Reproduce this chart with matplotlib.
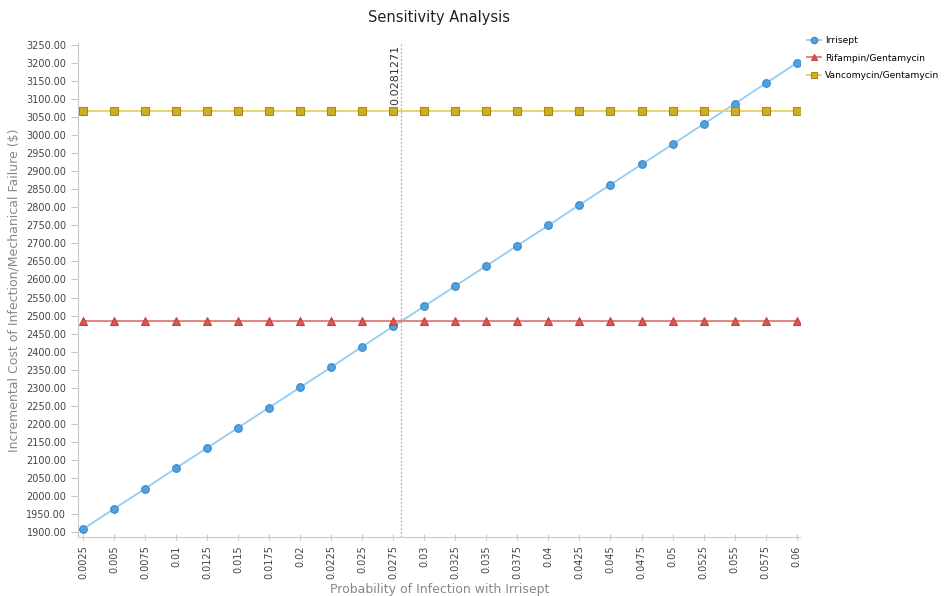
import numpy as np
import matplotlib.pyplot as plt
from matplotlib.ticker import FixedLocator, FormatStrFormatter

# Probability values (x axis)
prob = [0.0025, 0.005, 0.0075, 0.01, 0.0125, 0.015, 0.0175, 0.02, 0.0225, 0.025,
        0.0275, 0.03, 0.0325, 0.035, 0.0375, 0.04, 0.0425, 0.045, 0.0475, 0.05,
        0.0525, 0.055, 0.0575, 0.06]
prob_labels = ['0.0025', '0.005', '0.0075', '0.01', '0.0125', '0.015', '0.0175', '0.02',
               '0.0225', '0.025', '0.0275', '0.03', '0.0325', '0.035', '0.0375', '0.04',
               '0.0425', '0.045', '0.0475', '0.05', '0.0525', '0.055', '0.0575', '0.06']

# Costs
irrisept = [1908, 1964, 2020, 2077, 2133, 2189, 2245, 2301, 2357, 2414, 2470, 2526,
            2582, 2638, 2694, 2750, 2807, 2863, 2919, 2975, 3031, 3087, 3144, 3200]
rifampin = [2485] * 24
vancomycin = [3068] * 24

threshold = 0.0281271
y_ticks = list(range(1900, 3251, 50))

fig = plt.figure(figsize=(9.48, 5.96), dpi=100)
ax = fig.add_axes([0.0823, 0.099, 0.762, 0.829])

ax.plot(prob, irrisept, '-', color='#92cdf2', lw=1.3, marker='o', ms=5.5,
        mfc='#4fa3e3', mec='#3a86c8', mew=0.8, label='Irrisept', zorder=3)
ax.plot(prob, rifampin, '-', color='#e37b76', lw=1.3, marker='^', ms=5.5,
        mfc='#d9574f', mec='#c2443c', mew=0.8, label='Rifampin/Gentamycin', zorder=3)
ax.plot(prob, vancomycin, '-', color='#ead064', lw=1.3, marker='s', ms=5.5,
        mfc='#cfae22', mec='#a88a14', mew=0.8, label='Vancomycin/Gentamycin', zorder=3)

# threshold line
ax.axvline(threshold, color='#b0b0b0', lw=0.9, ls=(0, (1.5, 1.5)), zorder=1)
ax.text(threshold - 0.00045, 3250, str(threshold), rotation=90, ha='center', va='top',
        fontsize=8, color='#333333')

ax.set_xlim(0.0021, 0.0603)
ax.set_ylim(1886, 3256)
ax.xaxis.set_major_locator(FixedLocator(prob))
ax.set_xticklabels(prob_labels, rotation=90, fontsize=7, color='#444444')
ax.yaxis.set_major_locator(FixedLocator(y_ticks))
ax.yaxis.set_major_formatter(FormatStrFormatter('%.2f'))
ax.tick_params(axis='y', labelsize=7, labelcolor='#444444', color='#c8c8c8',
               length=5, direction='out')
ax.tick_params(axis='x', color='#c8c8c8', length=5, direction='inout')

for s in ['top', 'right']:
    ax.spines[s].set_visible(False)
for s in ['left', 'bottom']:
    ax.spines[s].set_color('#c8c8c8')

ax.set_xlabel('Probability of Infection with Irrisept', fontsize=9, color='#888888',
              labelpad=3)
ax.set_ylabel('Incremental Cost of Infection/Mechanical Failure ($)', fontsize=9,
              color='#888888', labelpad=4)
ax.set_title('Sensitivity Analysis', fontsize=10.5, color='#222222', pad=15)

fig.legend(loc='upper left', bbox_to_anchor=(0.849, 0.943), frameon=False, fontsize=6.6,
           handlelength=1.6, labelspacing=0.95, handletextpad=0.4, markerscale=0.85,
           borderaxespad=0, borderpad=0.2)

fig.savefig('out.png', dpi=100)
